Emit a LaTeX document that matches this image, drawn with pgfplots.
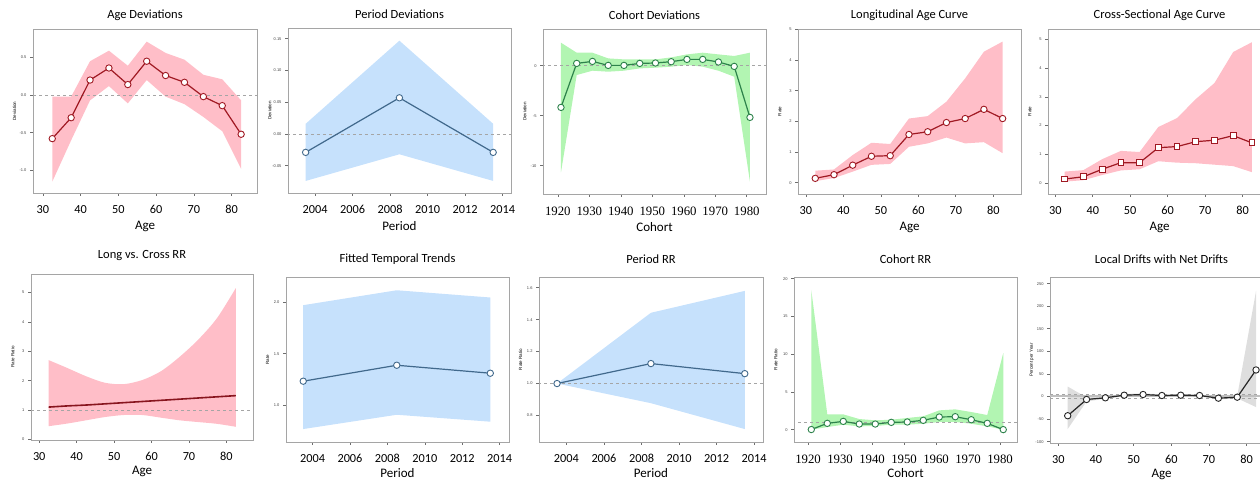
\documentclass[border=0pt]{standalone}
\usepackage{fontspec}
\setmainfont{Carlito}
\newfontfamily\ticksans{Liberation Sans}
\newfontfamily\tickserif{Liberation Serif}
\usepackage{pgfplots}
\pgfplotsset{compat=1.18}
\usepgfplotslibrary{fillbetween}
\usepackage{pgfplotstable}

\definecolor{agered}{RGB}{160,25,35}
\definecolor{agepink}{RGB}{255,190,200}
\definecolor{perline}{RGB}{65,105,140}
\definecolor{perfill}{RGB}{198,225,252}
\definecolor{cohline}{RGB}{45,130,75}
\definecolor{cohfill}{RGB}{178,245,178}
\definecolor{axgray}{RGB}{165,165,165}
\definecolor{tickgray}{RGB}{110,110,110}
\definecolor{refgray}{RGB}{165,165,165}
\definecolor{driftfill}{RGB}{222,222,222}

\pgfplotstableread{
x y lo hi
32.5 -0.578 -1.15 -0.02
37.5 -0.30 -0.60 -0.02
42.5 0.20 -0.07 0.45
47.5 0.36 0.12 0.59
52.5 0.14 -0.11 0.39
57.5 0.45 0.20 0.71
62.5 0.26 -0.02 0.56
67.5 0.17 -0.12 0.47
72.5 -0.02 -0.29 0.27
77.5 -0.14 -0.48 0.21
82.5 -0.52 -0.98 -0.07
}\tAge

\pgfplotstableread{
x y lo hi
2003.5 -0.029 -0.074 0.016
2008.5 0.057 -0.032 0.147
2013.5 -0.029 -0.074 0.016
}\tPer

\pgfplotstableread{
x y lo hi
1921 -4.17 -10.67 2.3
1926 0.23 -0.93 1.3
1931 0.43 -0.5 1.3
1936 0.03 -0.6 0.73
1941 0.03 -0.5 0.63
1946 0.23 -0.27 0.63
1951 0.27 -0.2 0.63
1956 0.40 -0.1 0.83
1961 0.63 0.07 1.13
1966 0.63 -0.1 1.3
1971 0.37 -0.5 1.13
1976 -0.07 -1.1 0.97
1981 -5.17 -11.6 1.3
}\tCoh

\pgfplotstableread{
x y lo hi
32.5 0.14 0.05 0.39
37.5 0.26 0.15 0.43
42.5 0.57 0.36 0.90
47.5 0.86 0.58 1.30
52.5 0.88 0.61 1.26
57.5 1.57 1.17 2.09
62.5 1.66 1.28 2.17
67.5 1.96 1.47 2.64
72.5 2.09 1.28 3.40
77.5 2.39 1.32 4.27
82.5 2.09 0.96 4.60
}\tLong

\pgfplotstableread{
x y lo hi
32.5 0.14 0.05 0.40
37.5 0.22 0.10 0.45
42.5 0.48 0.28 0.83
47.5 0.71 0.44 1.12
52.5 0.71 0.48 1.08
57.5 1.23 0.76 1.95
62.5 1.27 0.71 2.26
67.5 1.44 0.69 2.92
72.5 1.49 0.64 3.48
77.5 1.65 0.59 4.56
82.5 1.40 0.38 4.90
}\tCross

\pgfplotstableread{
x y lo hi
32.5 1.10 0.45 2.70
37.5 1.14 0.54 2.43
42.5 1.17 0.65 2.15
47.5 1.21 0.76 1.93
52.5 1.25 0.83 1.88
57.5 1.29 0.83 2.02
62.5 1.33 0.74 2.32
67.5 1.37 0.65 2.81
72.5 1.41 0.59 3.40
77.5 1.45 0.53 4.13
82.5 1.49 0.43 5.15
}\tRR

\pgfplotstableread{
x y lo hi
2003.5 1.234 0.772 1.968
2008.5 1.388 0.910 2.112
2013.5 1.311 0.843 2.042
}\tFit

\pgfplotstableread{
x y lo hi
2003.5 1.0 1.0 1.0
2008.5 1.125 0.877 1.443
2013.5 1.062 0.715 1.58
}\tPRR

\pgfplotstableread{
x y lo hi
1921 0.02 0.0 18.5
1926 0.84 0.35 2.03
1931 1.10 0.66 2.03
1936 0.75 0.44 1.41
1941 0.75 0.49 1.24
1946 0.97 0.66 1.32
1951 1.02 0.66 1.55
1956 1.24 0.79 1.77
1961 1.68 1.02 2.56
1966 1.72 1.02 2.69
1971 1.32 0.79 2.34
1976 0.84 0.44 1.94
1981 0.01 0.0 10.15
}\tCRR

\pgfplotstableread{
x y lo hi
32.5 -42.6 -72 22
37.5 -6.6 -11 -2
42.5 -2.9 -5 -0.5
47.5 2.9 0.5 5.5
52.5 4.4 2 7
57.5 2.2 0 4.5
62.5 2.9 0.5 5.5
67.5 2.2 0 4.5
72.5 -3.7 -6.5 -1
77.5 -1.5 -4 1
82.5 58.8 -23.5 234
}\tDrift

\pgfplotsset{
  apc/.style n args={2}{
    scale only axis,
    anchor=south west,
    axis line style={draw=axgray, line width=0.9pt},
    xtick pos=left, ytick pos=left,
    tick align=outside,
    major tick length=3pt,
    tick style={draw=tickgray, line width=0.6pt},
    /pgf/number format/assume math mode=true,
    x tick label style={font=\fontsize{12.3}{14}\selectfont, /pgf/number format/1000 sep={}, yshift=-6pt},
    y tick label style={font=\ticksans\fontsize{4}{5}\selectfont, color=darkgray},
    title style={font=\fontsize{12.5}{14}\selectfont, at={(axis description cs:0.5,1)}, anchor=center, yshift=#1},
    xlabel style={font=\fontsize{13}{15}\selectfont, at={(axis description cs:0.5,0)}, anchor=center, yshift=#2},
    ylabel style={font=\ticksans\fontsize{4.5}{5}\selectfont, at={(axis description cs:-0.082,0.5)}, anchor=center},
  },
  top/.style={apc={8pt}{-33pt}},
  bot/.style={apc={12pt}{-31pt}},
  cohx/.style={x tick label style={font=\tickserif\fontsize{12.8}{14}\selectfont}},
  fix1/.style={y tick label style={/pgf/number format/fixed, /pgf/number format/fixed zerofill, /pgf/number format/precision=1}},
  fix2/.style={y tick label style={/pgf/number format/fixed, /pgf/number format/fixed zerofill, /pgf/number format/precision=2}},
}

\begin{document}
\begin{tikzpicture}

% 1 Age Deviations
\begin{axis}[top, fix1, at={(33pt,291pt)}, width=224pt, height=164pt,
  xmin=27.4, xmax=86.7, ymin=-1.30, ymax=0.878,
  xtick={30,40,50,60,70,80}, ytick={-1,-0.5,0,0.5},
  title={Age Deviations}, xlabel={Age}, ylabel={Deviation}]
  \addplot[draw=none, name path=hi] table[x=x,y=hi]{\tAge};
  \addplot[draw=none, name path=lo] table[x=x,y=lo]{\tAge};
  \addplot[agepink] fill between[of=hi and lo];
  \addplot[dashed, refgray, line width=0.6pt] coordinates {(27.4,0) (86.7,0)};
  \addplot[agered, line width=1.2pt, mark=*, mark size=3.2pt, mark options={fill=white, solid, line width=0.9pt}] table[x=x,y=y]{\tAge};
\end{axis}

% 2 Period Deviations
\begin{axis}[top, fix2, at={(288pt,291pt)}, width=223pt, height=165pt,
  xmin=2002.56, xmax=2014.45, ymin=-0.093, ymax=0.167,
  xtick={2004,2006,...,2014}, ytick={-0.05,0,0.05,0.1,0.15},
  title={Period Deviations}, xlabel={Period}, ylabel={Deviation}]
  \addplot[draw=none, name path=hi] table[x=x,y=hi]{\tPer};
  \addplot[draw=none, name path=lo] table[x=x,y=lo]{\tPer};
  \addplot[perfill] fill between[of=hi and lo];
  \addplot[dashed, refgray, line width=0.6pt] coordinates {(2002.5,0) (2014.5,0)};
  \addplot[perline, line width=1.2pt, mark=*, mark size=3.2pt, mark options={fill=white, solid, line width=0.9pt}] table[x=x,y=y]{\tPer};
\end{axis}

% 3 Cohort Deviations
\begin{axis}[top, cohx, at={(543pt,290pt)}, width=223pt, height=165pt,
  xmin=1915.3, xmax=1986.1, ymin=-12.83, ymax=3.67,
  xtick={1920,1930,...,1980}, ytick={-10,-5,0},
  title={Cohort Deviations}, xlabel={Cohort}, ylabel={Deviation}]
  \addplot[draw=none, name path=hi] table[x=x,y=hi]{\tCoh};
  \addplot[draw=none, name path=lo] table[x=x,y=lo]{\tCoh};
  \addplot[cohfill] fill between[of=hi and lo];
  \addplot[dashed, refgray, line width=0.6pt] coordinates {(1915,0) (1987,0)};
  \addplot[cohline, line width=1.2pt, mark=*, mark size=3.2pt, mark options={fill=white, solid, line width=0.9pt}] table[x=x,y=y]{\tCoh};
\end{axis}

% 4 Longitudinal Age Curve
\begin{axis}[top, at={(798pt,290pt)}, width=223pt, height=165pt,
  xmin=27.9, xmax=87.4, ymin=-0.37, ymax=5.01,
  xtick={30,40,50,60,70,80}, ytick={0,1,2,3,4,5},
  title={Longitudinal Age Curve}, xlabel={Age}, ylabel={Rate}]
  \addplot[draw=none, name path=hi] table[x=x,y=hi]{\tLong};
  \addplot[draw=none, name path=lo] table[x=x,y=lo]{\tLong};
  \addplot[agepink] fill between[of=hi and lo];
  \addplot[agered, line width=1.2pt, mark=*, mark size=3.2pt, mark options={fill=white, solid, line width=0.9pt}] table[x=x,y=y]{\tLong};
\end{axis}

% 5 Cross-Sectional Age Curve
\begin{axis}[top, at={(1048pt,290pt)}, width=223pt, height=165pt,
  xmin=28.05, xmax=87.6, ymin=-0.38, ymax=5.36,
  xtick={30,40,50,60,70,80}, ytick={0,1,2,3,4,5},
  title={Cross-Sectional Age Curve}, xlabel={Age}, ylabel={Rate}]
  \addplot[draw=none, name path=hi] table[x=x,y=hi]{\tCross};
  \addplot[draw=none, name path=lo] table[x=x,y=lo]{\tCross};
  \addplot[agepink] fill between[of=hi and lo];
  \addplot[agered, line width=1.2pt, mark=square*, mark size=2.9pt, mark options={fill=white, solid, line width=0.9pt}] table[x=x,y=y]{\tCross};
\end{axis}

% 6 Long vs. Cross RR
\begin{axis}[bot, at={(31pt,44pt)}, width=222pt, height=166pt,
  xmin=27.8, xmax=87.1, ymin=-0.02, ymax=5.63,
  xtick={30,40,50,60,70,80}, ytick={0,1,2,3,4,5},
  title={Long vs. Cross RR}, xlabel={Age}, ylabel={Rate Ratio}]
  \addplot[draw=none, smooth, name path=hi] table[x=x,y=hi]{\tRR};
  \addplot[draw=none, smooth, name path=lo] table[x=x,y=lo]{\tRR};
  \addplot[agepink] fill between[of=hi and lo];
  \addplot[dashed, refgray, line width=0.6pt] coordinates {(27.8,1) (87.1,1)};
  \addplot[agered!85!black, line width=1.6pt, smooth] table[x=x,y=y]{\tRR};
\end{axis}

% 7 Fitted Temporal Trends
\begin{axis}[bot, fix1, at={(286pt,42pt)}, width=223pt, height=165pt,
  xmin=2002.58, xmax=2014.5, ymin=0.647, ymax=2.24,
  xtick={2004,2006,...,2014}, ytick={1,1.5,2},
  title={Fitted Temporal Trends}, xlabel={Period}, ylabel={Rate}]
  \addplot[draw=none, name path=hi] table[x=x,y=hi]{\tFit};
  \addplot[draw=none, name path=lo] table[x=x,y=lo]{\tFit};
  \addplot[perfill] fill between[of=hi and lo];
  \addplot[perline, line width=1.2pt, mark=*, mark size=3.2pt, mark options={fill=white, solid, line width=0.9pt}] table[x=x,y=y]{\tFit};
\end{axis}

% 8 Period RR
\begin{axis}[bot, fix1, at={(539pt,42pt)}, width=224pt, height=165pt,
  xmin=2002.54, xmax=2014.47, ymin=0.634, ymax=1.667,
  xtick={2004,2006,...,2014}, ytick={0.8,1.0,1.2,1.4,1.6},
  title={Period RR}, xlabel={Period}, ylabel={Rate Ratio}]
  \addplot[draw=none, name path=hi] table[x=x,y=hi]{\tPRR};
  \addplot[draw=none, name path=lo] table[x=x,y=lo]{\tPRR};
  \addplot[perfill] fill between[of=hi and lo];
  \addplot[dashed, refgray, line width=0.6pt] coordinates {(2002.5,1) (2014.5,1)};
  \addplot[perline, line width=1.2pt, mark=*, mark size=3.2pt, mark options={fill=white, solid, line width=0.9pt}] table[x=x,y=y]{\tPRR};
\end{axis}

% 9 Cohort RR
\begin{axis}[bot, cohx, at={(794pt,42pt)}, width=223pt, height=165pt,
  xmin=1915.6, xmax=1985.3, ymin=-1.63, ymax=20.22,
  xtick={1920,1930,...,1980}, ytick={0,5,10,15,20},
  title={Cohort RR}, xlabel={Cohort}, ylabel={Rate Ratio}]
  \addplot[draw=none, name path=hi] table[x=x,y=hi]{\tCRR};
  \addplot[draw=none, name path=lo] table[x=x,y=lo]{\tCRR};
  \addplot[cohfill] fill between[of=hi and lo];
  \addplot[dashed, refgray, line width=0.6pt] coordinates {(1915,1) (1986,1)};
  \addplot[cohline, line width=1.2pt, mark=*, mark size=3.2pt, mark options={fill=white, solid, line width=0.9pt}] table[x=x,y=y]{\tCRR};
\end{axis}

% 10 Local Drifts with Net Drifts
\begin{axis}[bot, at={(1050pt,41pt)}, width=223pt, height=166pt,
  xmin=27.8, xmax=87.0, ymin=-103, ymax=264.7,
  xtick={30,40,50,60,70,80}, ytick={-100,-50,...,250},
  title={Local Drifts with Net Drifts}, xlabel={Age}, ylabel={Percent per Year}]
  \addplot[draw=none, name path=hi] table[x=x,y=hi]{\tDrift};
  \addplot[draw=none, name path=lo] table[x=x,y=lo]{\tDrift};
  \addplot[driftfill] fill between[of=hi and lo];
  \addplot[refgray!70, line width=2pt] coordinates {(27.8,0.7) (87,0.7)};
  \addplot[dashed, refgray, line width=0.7pt] coordinates {(27.8,4.4) (87,4.4)};
  \addplot[dashed, refgray, line width=0.7pt] coordinates {(27.8,-3) (87,-3)};
  \addplot[black!85, line width=1.2pt, mark=*, mark size=3.2pt, mark options={fill=white, solid, line width=0.9pt}] table[x=x,y=y]{\tDrift};
\end{axis}

\pgfresetboundingbox
\path[use as bounding box] (0pt,0pt) rectangle (1260pt,484pt);
\end{tikzpicture}
\end{document}
